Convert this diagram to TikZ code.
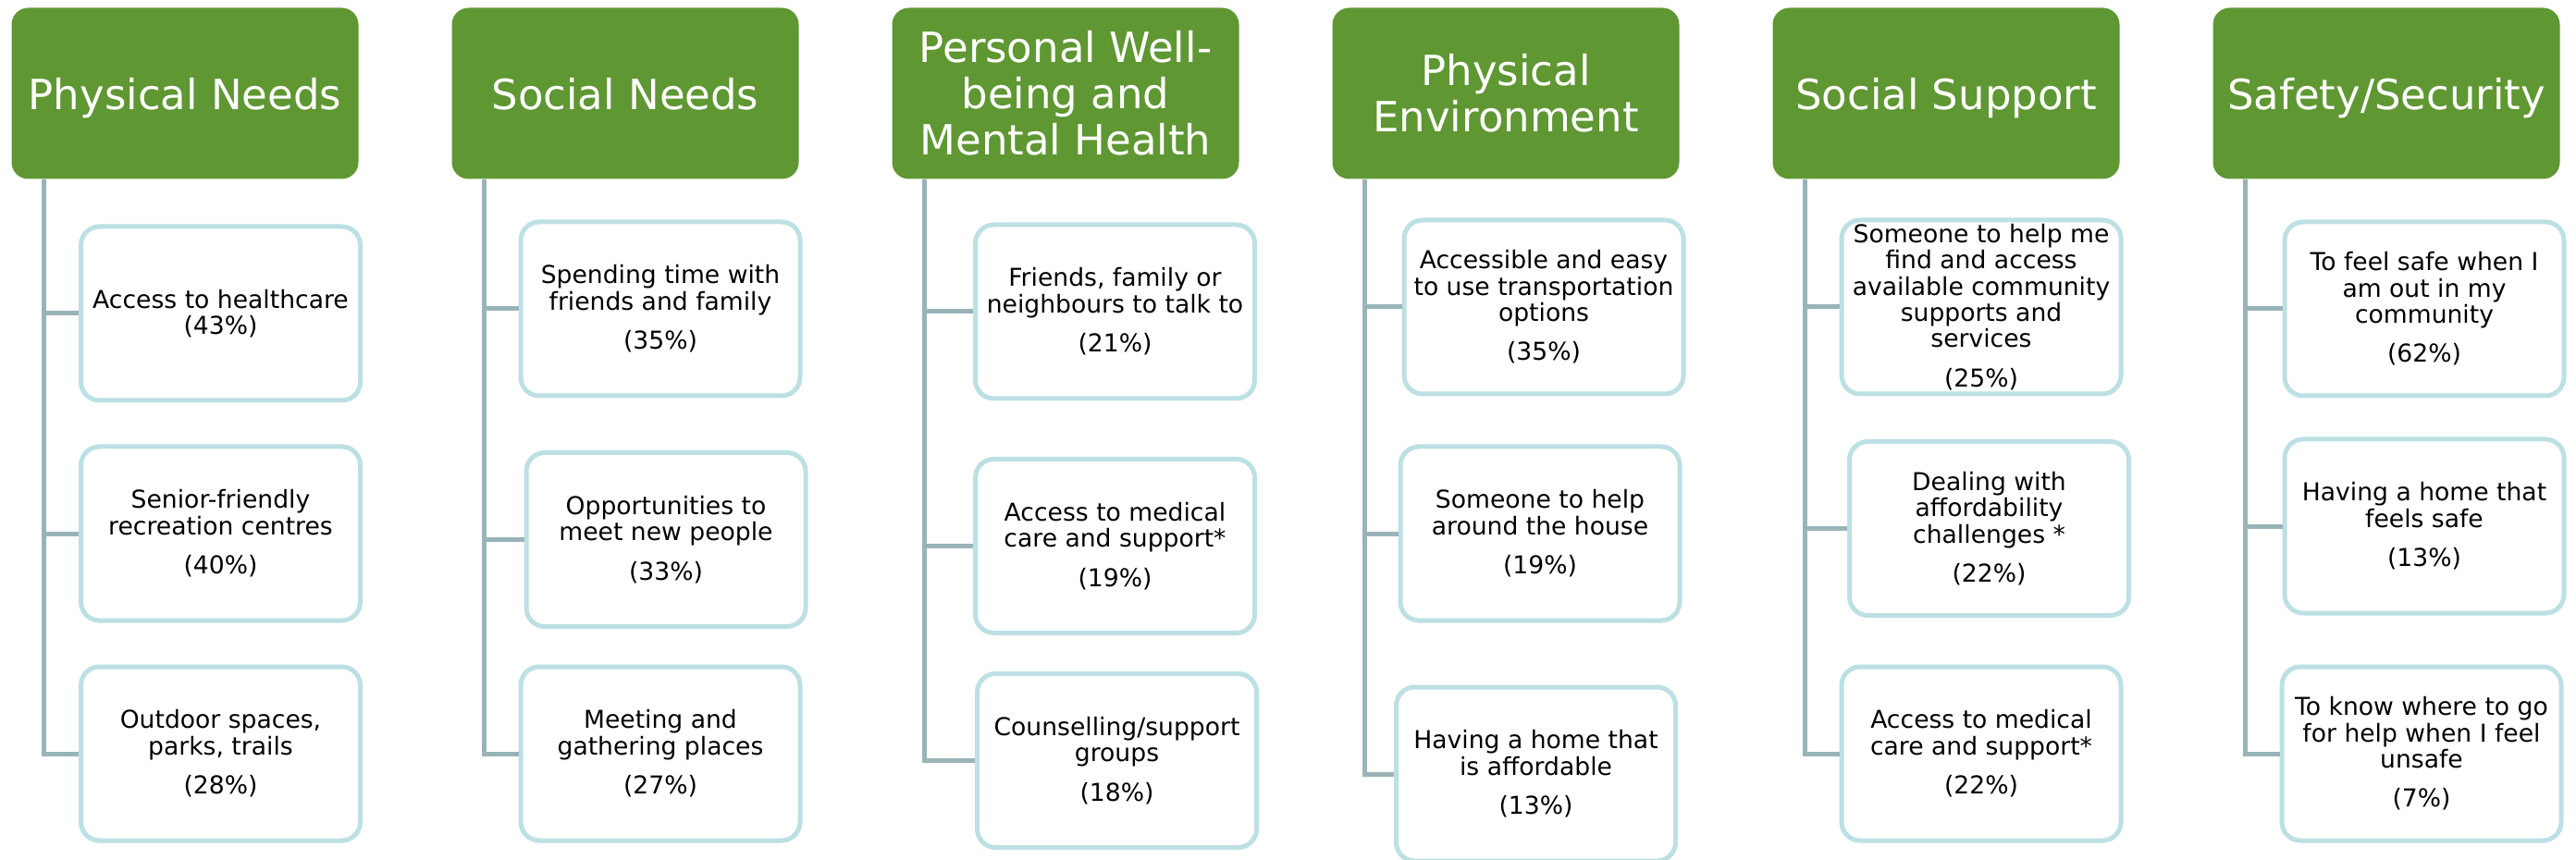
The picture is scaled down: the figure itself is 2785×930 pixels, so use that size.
\documentclass[tikz,border=0pt]{standalone}
\usepackage{fontspec}
\setmainfont{DejaVu Sans}
\definecolor{headgreen}{RGB}{95,151,51}
\definecolor{itemblue}{RGB}{188,224,227}
\definecolor{linkgray}{RGB}{153,180,184}
\begin{document}
\begin{tikzpicture}[
        x=0.5pt, y=-0.5pt,
        head/.style={fill=headgreen, rounded corners=9pt, text=white, align=center,
            minimum width=187.5pt, minimum height=92.5pt, inner sep=0pt,
            font=\fontsize{22.5}{25}\selectfont},
        onehead/.style={head, text depth=0pt},
        item/.style={draw=itemblue, line width=2.5pt, fill=white, rounded corners=10pt,
            align=center, minimum width=151pt, minimum height=94pt, inner sep=0pt,
            font=\fontsize{13.3}{14.2}\selectfont},
        link/.style={draw=linkgray, line width=2.5pt},
    ]
    \useasboundingbox (0,0) rectangle (2785,930);

    \node[onehead](physical) at (200,101){Physical Needs};
    \node[onehead](social) at (676,101){Social Needs};
    \node[head](wellbeing) at (1152,101){Personal Well-\\being and\\Mental Health};
    \node[head](environment) at (1628,101){Physical\\Environment};
    \node[onehead](support) at (2104,101){Social Support};
    \node[onehead](safety) at (2580,101){Safety/Security};

    \node[item](physical1) at (238.5,339){Access to healthcare\\(43\%)};
    \node[item](physical2) at (238.5,577){Senior-friendly\\recreation centres\\[7pt](40\%)};
    \node[item](physical3) at (238.5,815){Outdoor spaces,\\parks, trails\\[7pt](28\%)};

    \node[item](social1) at (714,334){Spending time with\\friends and family\\[7pt](35\%)};
    \node[item](social2) at (720,583.5){Opportunities to\\meet new people\\[7pt](33\%)};
    \node[item](social3) at (714,815){Meeting and\\gathering places\\[7pt](27\%)};

    \node[item](wellbeing1) at (1205.5,337){Friends, family or\\neighbours to talk to\\[7pt](21\%)};
    \node[item](wellbeing2) at (1205.5,590.5){Access to medical\\care and support*\\[7pt](19\%)};
    \node[item](wellbeing3) at (1207.5,822.5){Counselling/support\\groups\\[7pt](18\%)};

    \node[item](environment1) at (1669,332){Accessible and easy\\to use transportation\\options\\[7pt](35\%)};
    \node[item](environment2) at (1665,577){Someone to help\\around the house\\[7pt](19\%)};
    \node[item](environment3) at (1660.5,837){Having a home that\\is affordable\\[7pt](13\%)};

    \node[item](support1) at (2142,332){Someone to help me\\find and access\\available community\\supports and\\services\\[7pt](25\%)};
    \node[item](support2) at (2150.5,571.5){Dealing with\\affordability\\challenges *\\[7pt](22\%)};
    \node[item](support3) at (2142,815){Access to medical\\care and support*\\[7pt](22\%)};

    \node[item](safety1) at (2621,334){To feel safe when I\\am out in my\\community\\[7pt](62\%)};
    \node[item](safety2) at (2621,569){Having a home that\\feels safe\\[7pt](13\%)};
    \node[item](safety3) at (2618,815){To know where to go\\for help when I feel\\unsafe\\[7pt](7\%)};

    \draw[link] ([xshift=17.5pt]physical.south west) |- (physical1.west)
        ([xshift=17.5pt]physical.south west) |- (physical2.west)
        ([xshift=17.5pt]physical.south west) |- (physical3.west);
    \draw[link] ([xshift=17.5pt]social.south west) |- (social1.west)
        ([xshift=17.5pt]social.south west) |- (social2.west)
        ([xshift=17.5pt]social.south west) |- (social3.west);
    \draw[link] ([xshift=17.5pt]wellbeing.south west) |- (wellbeing1.west)
        ([xshift=17.5pt]wellbeing.south west) |- (wellbeing2.west)
        ([xshift=17.5pt]wellbeing.south west) |- (wellbeing3.west);
    \draw[link] ([xshift=17.5pt]environment.south west) |- (environment1.west)
        ([xshift=17.5pt]environment.south west) |- (environment2.west)
        ([xshift=17.5pt]environment.south west) |- (environment3.west);
    \draw[link] ([xshift=17.5pt]support.south west) |- (support1.west)
        ([xshift=17.5pt]support.south west) |- (support2.west)
        ([xshift=17.5pt]support.south west) |- (support3.west);
    \draw[link] ([xshift=17.5pt]safety.south west) |- (safety1.west)
        ([xshift=17.5pt]safety.south west) |- (safety2.west)
        ([xshift=17.5pt]safety.south west) |- (safety3.west);

    \end{tikzpicture}
\end{document}
